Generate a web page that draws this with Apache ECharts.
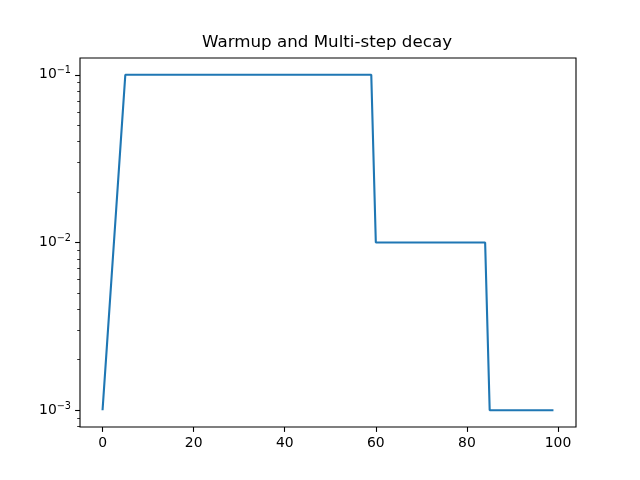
<!DOCTYPE html>
<html>
<head>
<meta charset="utf-8">
<script src="https://cdn.jsdelivr.net/npm/echarts@6/dist/echarts.min.js"></script>
<style>html,body{margin:0;padding:0;background:#fff;}#c{width:640px;height:480px;}</style>
</head>
<body>
<div id="c"></div>
<script>
// Breakpoints of the learning-rate schedule (epoch, lr)
const epochs = [0, 1, 2, 3, 4, 5, 59, 60, 84, 85, 99];
const lrValues = [0.001, 0.00251, 0.00631, 0.01585, 0.0398, 0.1, 0.1, 0.01, 0.01, 0.001, 0.001];
const xTicks = [0, 20, 40, 60, 80, 100];
const yMajorTicks = [0.001, 0.01, 0.1];
const yMinorTicks = [0.0008, 0.0009, 0.002, 0.003, 0.004, 0.005, 0.006, 0.007, 0.008, 0.009,
                     0.02, 0.03, 0.04, 0.05, 0.06, 0.07, 0.08, 0.09];
const titleText = 'Warmup and Multi-step decay';

const chart = echarts.init(document.getElementById('c'), null, {renderer: 'canvas'});
const FONT = 'DejaVu Sans';
const data = epochs.map((e, i) => [e, lrValues[i]]);
const yMin = Math.pow(10, -3.1), yMax = Math.pow(10, -0.9);

function expLabel(v) {
  const e = Math.round(Math.log10(v));
  return '10{e|' + (e < 0 ? '\u2212' + (-e) : e) + '}';
}

chart.setOption({
  animation: false,
  backgroundColor: '#fff',
  title: {
    text: titleText, left: 197, top: 29,
    textStyle: {fontFamily: FONT, fontSize: 16.7, fontWeight: 'normal', color: '#000'}
  },
  grid: {left: 80, right: 64, top: 58, bottom: 53, show: true, borderColor: '#000', borderWidth: 1.1, backgroundColor: 'transparent'},
  xAxis: {
    type: 'value', min: -4.95, max: 103.95,
    axisLine: {show: false, onZero: false},
    splitLine: {show: false},
    axisTick: {show: true, length: 4.9, lineStyle: {color: '#000', width: 1.1}, customValues: xTicks},
    axisLabel: {customValues: xTicks, margin: 9, fontFamily: FONT, fontSize: 13.9, color: '#000'}
  },
  yAxis: [{
    type: 'log', logBase: 10, min: yMin, max: yMax, position: 'left',
    axisLine: {show: false, onZero: false},
    splitLine: {show: false},
    axisTick: {show: true, length: 4.9, lineStyle: {color: '#000', width: 1.1}, customValues: yMajorTicks},
    axisLabel: {
      customValues: yMajorTicks, margin: 9, fontFamily: FONT, fontSize: 13.9, color: '#000',
      formatter: expLabel,
      rich: {e: {fontFamily: FONT, fontSize: 9.7, color: '#000', padding: [0, 0, 8, 0]}}
    }
  }, {
    type: 'log', logBase: 10, min: yMin, max: yMax, position: 'left',
    axisLine: {show: false, onZero: false},
    splitLine: {show: false},
    axisLabel: {show: false},
    axisTick: {show: true, length: 2.8, lineStyle: {color: '#000', width: 0.8}, customValues: yMinorTicks}
  }],
  series: [{
    type: 'line', data: data, showSymbol: false, symbol: 'none',
    lineStyle: {color: '#1f77b4', width: 2.1}, itemStyle: {color: '#1f77b4'}
  }]
});
</script>
</body>
</html>
